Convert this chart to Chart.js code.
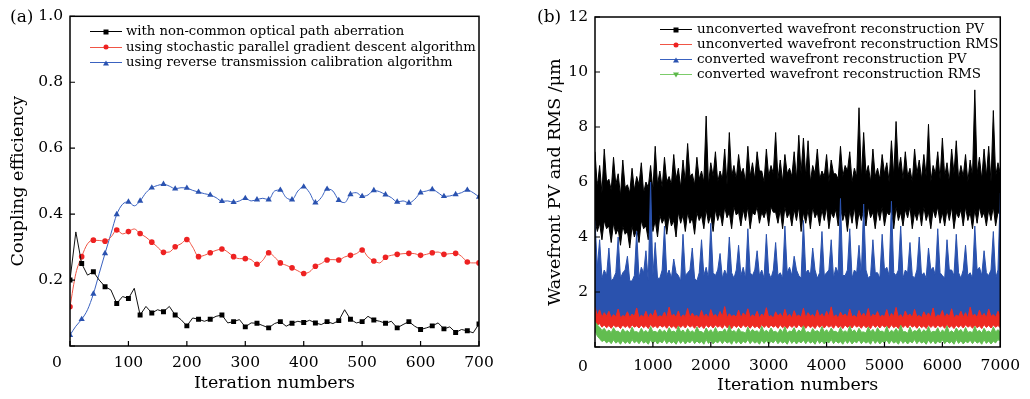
<!DOCTYPE html>
<html>
<head>
<meta charset="utf-8">
<script src="https://cdn.jsdelivr.net/npm/chart.js@4.4.1/dist/chart.umd.min.js"></script>
<style>
body { margin:0; background:#fff; }
#wrap { position:relative; width:1030px; height:399px; font-family:"DejaVu Serif", serif; color:#000; }
canvas { position:absolute; top:0; }
#cA { left:0; }
#cB { left:515px; }
.lbl { position:absolute; line-height:1; white-space:nowrap; }
.leg { position:absolute; white-space:nowrap; }
.leg div { position:relative; }
.sw { display:inline-block; position:relative; width:32px; height:0; border-top:1px solid; vertical-align:middle; margin-right:4px; }
.mk { position:absolute; left:50%; top:-0.5px; transform:translate(-50%,-50%); }
.sq { width:5px; height:5px; background:#000; }
.ci { width:5px; height:5px; border-radius:50%; background:#ee2222; }
.tu { width:0; height:0; border-left:3px solid transparent; border-right:3px solid transparent; border-bottom:5px solid #2a52b0; }
.td { width:0; height:0; border-left:3px solid transparent; border-right:3px solid transparent; border-top:5px solid #5cb84a; }
</style>
</head>
<body>
<div id="wrap">
  <canvas id="cA" width="515" height="399"></canvas>
  <canvas id="cB" width="515" height="399"></canvas>

  <div class="lbl" style="left:10px;top:8px;font-size:17px;">(a)</div>
  <div class="lbl" style="left:537px;top:8px;font-size:17px;">(b)</div>
  <div class="lbl" style="left:52px;top:355px;font-size:15.5px;">0</div>
  <div class="lbl" style="left:578px;top:359px;font-size:15.5px;">0</div>

  <div class="leg" style="left:90px;top:23px;font-size:13.2px;line-height:15.5px;">
    <div><span class="sw" style="border-color:#000"><i class="mk sq"></i></span>with non-common optical path aberration</div>
    <div><span class="sw" style="border-color:#f05545"><i class="mk ci"></i></span>using stochastic parallel gradient descent algorithm</div>
    <div><span class="sw" style="border-color:#3a62c0"><i class="mk tu"></i></span>using reverse transmission calibration algorithm</div>
  </div>
  <div class="leg" style="left:660px;top:21px;font-size:13.5px;line-height:15px;">
    <div><span class="sw" style="border-color:#000;margin-right:5px"><i class="mk sq"></i></span>unconverted wavefront reconstruction PV</div>
    <div><span class="sw" style="border-color:#f05545;margin-right:5px"><i class="mk ci"></i></span>unconverted wavefront reconstruction RMS</div>
    <div><span class="sw" style="border-color:#3a62c0;margin-right:5px"><i class="mk tu"></i></span>converted wavefront reconstruction PV</div>
    <div><span class="sw" style="border-color:#7ccc6a;margin-right:5px"><i class="mk td"></i></span>converted wavefront reconstruction RMS</div>
  </div>
</div>

<script>
const FONT = "DejaVu Serif";

// ---------------- panel (a): coupling efficiency, one value every 10 iterations
const stepA = 10;
const blackA = [0.2,0.346,0.25,0.215,0.225,0.2,0.18,0.17,0.129,0.15,
  0.144,0.175,0.094,0.12,0.1,0.11,0.104,0.12,0.094,0.08,
  0.061,0.085,0.081,0.075,0.081,0.09,0.094,0.07,0.074,0.08,
  0.058,0.07,0.069,0.062,0.055,0.068,0.074,0.06,0.069,0.075,
  0.071,0.078,0.07,0.065,0.074,0.068,0.077,0.11,0.081,0.07,
  0.074,0.09,0.079,0.075,0.069,0.075,0.055,0.065,0.074,0.06,
  0.05,0.055,0.061,0.07,0.052,0.058,0.041,0.05,0.046,0.04,0.067];
const redA = [0.119,0.22,0.271,0.31,0.321,0.32,0.318,0.33,0.352,0.34,
  0.347,0.355,0.341,0.33,0.315,0.3,0.284,0.285,0.301,0.31,
  0.323,0.3,0.271,0.275,0.283,0.29,0.294,0.285,0.271,0.265,
  0.265,0.262,0.248,0.26,0.283,0.27,0.252,0.245,0.237,0.228,
  0.22,0.225,0.242,0.25,0.261,0.262,0.261,0.27,0.275,0.28,
  0.291,0.27,0.258,0.252,0.269,0.275,0.278,0.28,0.281,0.28,
  0.275,0.278,0.283,0.285,0.278,0.28,0.281,0.272,0.255,0.252,0.252];
const blueA = [0.033,0.06,0.081,0.11,0.158,0.22,0.281,0.34,0.399,0.43,
  0.437,0.425,0.44,0.465,0.48,0.487,0.491,0.485,0.477,0.48,
  0.479,0.472,0.467,0.462,0.458,0.45,0.439,0.44,0.436,0.44,
  0.448,0.44,0.444,0.448,0.444,0.47,0.473,0.45,0.444,0.47,
  0.483,0.465,0.435,0.45,0.476,0.47,0.442,0.435,0.46,0.465,
  0.454,0.458,0.472,0.468,0.459,0.45,0.437,0.44,0.434,0.445,
  0.465,0.47,0.475,0.465,0.454,0.455,0.46,0.465,0.473,0.465,0.452];
const xTicksA = [0,100,200,300,400,500,600,700];
const yTicksA = [0,0.2,0.4,0.6,0.8,1.0];

// ---------------- panel (b): 7000 noisy iterations, kept as max / min per 40-iteration bin
const stepB = 40;
const blackHiB = [7.1,5.8,6.6,5.6,7.2,6.0,6.1,5.7,6.9,5.9,
  6.3,5.5,6.8,5.8,5.9,5.6,6.5,5.7,6.2,5.9,
  6.7,5.6,6.0,5.8,6.6,5.7,7.3,5.9,6.4,5.8,
  6.9,6.0,6.2,5.9,7.0,6.1,6.5,5.8,6.8,6.0,
  7.4,6.2,6.3,5.9,6.9,6.1,6.4,6.0,8.4,5.9,
  6.7,6.2,7.1,6.0,6.4,6.1,7.2,5.9,7.8,6.2,
  6.6,6.1,7.0,6.3,6.5,6.0,7.3,6.2,6.7,6.1,
  7.1,6.4,6.4,6.0,7.2,6.2,6.6,6.3,7.8,6.1,
  6.8,6.0,7.0,6.3,6.5,6.2,7.1,6.1,7.7,6.3,
  7.6,6.2,7.5,6.0,6.6,6.3,7.2,6.1,6.4,6.2,
  7.0,6.0,6.8,6.3,6.3,6.1,7.3,6.2,6.6,6.4,
  7.1,6.0,6.5,6.2,8.7,6.1,7.8,6.3,6.6,6.0,
  7.2,6.2,6.5,6.1,7.0,6.3,6.7,6.0,7.5,6.2,
  8.2,6.4,6.9,6.1,7.1,6.2,6.5,6.0,7.2,6.3,
  6.8,6.1,7.0,6.2,8.1,6.0,6.6,6.3,7.1,6.1,
  7.6,6.2,6.7,6.0,7.2,6.3,7.5,6.1,6.6,6.2,
  7.0,6.0,6.8,6.2,9.35,6.3,6.9,6.1,7.2,6.2,
  7.3,6.0,8.6,6.2,6.7,6.3];
const blackLoB = [4.6,4.2,4.5,3.9,4.6,4.3,4.4,3.8,4.5,4.1,4.3,3.7,4.4,4.1,4.2,3.6,4.4,4.0,4.3,3.8,
  4.6,4.3,4.4,3.9,4.7,4.2,4.6,4.0,4.8,4.5,4.7,4.1,4.8,4.4,4.6,4.0,4.9,4.5,4.8,4.2,
  4.9,4.5,4.7,4.1,4.9,4.6,4.8,4.3,5.0,4.5,4.8,4.2,5.0,4.6,4.9,4.4,5.1,4.7,4.9,4.3,
  5.1,4.8,4.9,4.4,5.0,4.6,5.1,4.3,4.9,4.8,5.1,4.5,4.9,4.7,5.0,4.4,5.1,4.9,4.9,4.5,
  5.0,4.3,5.1,4.7,4.9,4.4,5.0,4.6,5.1,4.2,4.9,4.5,5.0,4.3,5.1,4.7,4.9,4.4,5.0,4.6,
  5.1,4.3,4.9,4.7,5.0,4.4,5.1,4.6,4.9,4.2,5.0,4.5,5.1,4.3,4.9,4.6,5.0,4.4,5.1,4.7,
  4.9,4.3,5.0,4.6,5.1,4.4,4.9,4.8,5.0,4.3,5.1,4.6,4.9,4.4,5.0,4.7,5.1,4.3,4.9,4.6,
  5.0,4.4,5.1,4.6,4.9,4.3,5.0,4.7,5.1,4.5,4.9,4.4,5.0,4.6,5.1,4.3,4.9,4.7,5.0,4.4,
  5.1,4.6,4.9,4.3,5.0,4.5,5.1,4.7,4.9,4.4,5.0,4.6,5.1,4.4,4.9,4.8];
const blueHiB = [4.6,2.9,3.9,2.5,2.8,2.6,3.6,2.4,2.5,2.7,
  4.0,2.5,2.7,2.8,3.3,2.4,2.4,2.6,4.2,2.5,
  2.9,2.7,3.5,2.4,6.0,2.6,3.8,2.5,2.5,2.8,
  4.4,2.6,2.8,2.5,3.2,2.7,2.6,2.4,4.1,2.6,
  2.7,2.8,3.6,2.5,2.4,2.7,3.9,2.6,2.9,2.5,
  4.5,2.7,2.6,2.8,3.4,2.5,2.8,2.6,4.0,2.7,
  2.5,2.8,3.7,2.6,2.9,2.5,4.3,2.7,2.6,2.8,
  3.5,2.6,2.8,2.5,4.1,2.7,2.5,2.8,3.8,2.6,
  2.7,2.5,4.4,2.7,2.9,2.6,3.3,2.8,2.6,2.5,
  4.6,2.7,2.8,2.6,3.6,2.8,2.5,2.7,4.2,2.6,
  2.7,2.8,3.9,2.5,2.9,2.7,5.4,2.6,2.6,2.8,
  4.3,2.5,2.8,2.7,3.7,2.6,5.2,2.8,2.5,2.6,
  3.9,2.7,2.7,2.5,4.1,2.8,2.9,2.6,5.3,2.7,
  2.6,2.8,4.4,2.5,2.8,2.7,3.8,2.6,2.5,2.8,
  4.0,2.6,2.7,2.5,3.6,2.8,2.9,2.6,4.3,2.7,
  2.6,2.5,3.9,2.8,2.8,2.6,4.1,2.7,2.5,2.8,
  3.7,2.6,2.7,2.5,4.4,2.8,2.9,2.6,3.5,2.7,
  2.6,2.8,4.2,2.5,2.8,5.6];
const blueLoB = [1.2,0.9,1.0,0.85,1.1,0.9,0.95,0.8,1.05,0.9,
  1.0,0.85,1.1,0.9,0.95,0.8,1.05,0.88,1.0,0.82,
  1.08,0.9,0.96,0.8,1.04,0.86,1.0,0.83,1.1,0.9,
  0.95,0.8,1.05,0.88,1.0,0.82,1.08,0.9,0.96,0.8,
  1.04,0.86,1.0,0.83,1.1,0.9,0.95,0.8,1.05,0.88,
  1.0,0.82,1.08,0.9,0.96,0.8,1.04,0.86,1.0,0.83,
  1.1,0.9,0.95,0.8,1.05,0.88,1.0,0.82,1.08,0.9,
  0.96,0.8,1.04,0.86,1.0,0.83,1.1,0.9,0.95,0.8,
  1.05,0.88,1.0,0.82,1.08,0.9,0.96,0.8,1.04,0.86,
  1.0,0.83,1.1,0.9,0.95,0.8,1.05,0.88,1.0,0.82,
  1.08,0.9,0.96,0.8,1.04,0.86,1.0,0.83,1.1,0.9,
  0.95,0.8,1.05,0.88,1.0,0.82,1.08,0.9,0.96,0.8,
  1.04,0.86,1.0,0.83,1.1,0.9,0.95,0.8,1.05,0.88,
  1.0,0.82,1.08,0.9,0.96,0.8,1.04,0.86,1.0,0.83,
  1.1,0.9,0.95,0.8,1.05,0.88,1.0,0.82,1.08,0.9,
  0.96,0.8,1.04,0.86,1.0,0.83,1.1,0.9,0.95,0.8,
  1.05,0.88,1.0,0.82,1.08,0.9,0.96,0.8,1.04,0.86,
  1.0,0.83,1.1,0.9,0.95,1.0];
const redHiB = [1.45,1.15,1.35,1.08,1.25,1.12,1.3,1.06,1.18,1.1,
  1.38,1.05,1.15,1.1,1.28,1.07,1.2,1.12,1.42,1.06,
  1.16,1.09,1.3,1.05,1.22,1.11,1.35,1.07,1.14,1.1,
  1.27,1.06,1.45,1.12,1.19,1.08,1.31,1.05,1.17,1.1,
  1.4,1.07,1.23,1.11,1.15,1.06,1.33,1.09,1.2,1.05,
  1.36,1.12,1.18,1.07,1.29,1.1,1.47,1.06,1.21,1.11,
  1.16,1.08,1.34,1.05,1.24,1.12,1.39,1.07,1.17,1.1,
  1.3,1.06,1.2,1.11,1.43,1.08,1.15,1.05,1.28,1.12,
  1.22,1.07,1.37,1.1,1.19,1.06,1.32,1.11,1.16,1.08,
  1.41,1.05,1.25,1.12,1.18,1.07,1.35,1.1,1.21,1.06,
  1.3,1.11,1.46,1.08,1.17,1.05,1.27,1.12,1.2,1.07,
  1.38,1.1,1.15,1.06,1.33,1.11,1.23,1.08,1.4,1.05,
  1.19,1.12,1.29,1.07,1.16,1.1,1.36,1.06,1.22,1.11,
  1.44,1.08,1.18,1.05,1.31,1.12,1.2,1.07,1.37,1.1,
  1.15,1.06,1.28,1.11,1.24,1.08,1.42,1.05,1.17,1.12,
  1.33,1.07,1.21,1.1,1.39,1.06,1.16,1.11,1.3,1.08,
  1.25,1.05,1.45,1.12,1.19,1.07,1.34,1.1,1.22,1.06,
  1.38,1.11,1.18,1.08,1.3,1.1];
const redLoB = [0.95,0.8,0.85,0.72,0.8,0.7,0.78,0.68,0.8,0.72,
  0.77,0.67,0.8,0.71,0.78,0.68,0.81,0.72,0.77,0.69,
  0.8,0.7,0.78,0.67,0.82,0.71,0.77,0.69,0.8,0.72,
  0.78,0.68,0.81,0.7,0.77,0.67,0.8,0.71,0.79,0.69,
  0.82,0.72,0.78,0.68,0.8,0.7,0.77,0.67,0.81,0.71,
  0.79,0.69,0.8,0.72,0.78,0.68,0.82,0.7,0.77,0.67,
  0.8,0.71,0.79,0.69,0.81,0.72,0.78,0.68,0.8,0.7,
  0.77,0.67,0.82,0.71,0.79,0.69,0.8,0.72,0.78,0.68,
  0.81,0.7,0.77,0.67,0.8,0.71,0.79,0.69,0.82,0.72,
  0.78,0.68,0.8,0.7,0.77,0.67,0.81,0.71,0.79,0.69,
  0.8,0.72,0.78,0.68,0.82,0.7,0.77,0.67,0.8,0.71,
  0.79,0.69,0.81,0.72,0.78,0.68,0.8,0.7,0.77,0.67,
  0.82,0.71,0.79,0.69,0.8,0.72,0.78,0.68,0.81,0.7,
  0.77,0.67,0.8,0.71,0.79,0.69,0.82,0.72,0.78,0.68,
  0.8,0.7,0.77,0.67,0.81,0.71,0.79,0.69,0.8,0.72,
  0.78,0.68,0.82,0.7,0.77,0.67,0.8,0.71,0.79,0.69,
  0.81,0.72,0.78,0.68,0.8,0.7,0.77,0.67,0.82,0.71,
  0.79,0.69,0.8,0.72,0.78,0.7];
const greenHiB = [0.92,0.8,0.72,0.6,0.68,0.55,0.62,0.52,0.7,0.56,
  0.58,0.5,0.66,0.54,0.6,0.51,0.72,0.55,0.56,0.5,
  0.68,0.53,0.6,0.5,0.74,0.55,0.57,0.52,0.65,0.54,
  0.61,0.5,0.7,0.55,0.58,0.52,0.76,0.54,0.62,0.5,
  0.67,0.53,0.59,0.51,0.73,0.56,0.56,0.5,0.69,0.54,
  0.63,0.5,0.71,0.53,0.57,0.55,0.66,0.51,0.78,0.54,
  0.6,0.52,0.68,0.55,0.55,0.5,0.72,0.53,0.64,0.56,
  0.59,0.51,0.75,0.54,0.61,0.52,0.69,0.55,0.57,0.5,
  0.66,0.53,0.73,0.51,0.58,0.56,0.7,0.5,0.62,0.54,
  0.77,0.52,0.56,0.5,0.67,0.55,0.6,0.52,0.74,0.54,
  0.63,0.51,0.69,0.56,0.57,0.5,0.71,0.53,0.59,0.52,
  0.76,0.55,0.62,0.5,0.68,0.54,0.55,0.51,0.73,0.55,
  0.64,0.5,0.7,0.56,0.58,0.52,0.75,0.51,0.61,0.54,
  0.67,0.52,0.79,0.55,0.56,0.5,0.72,0.53,0.6,0.56,
  0.68,0.51,0.63,0.54,0.74,0.52,0.57,0.55,0.7,0.5,
  0.62,0.54,0.77,0.52,0.59,0.51,0.69,0.56,0.64,0.5,
  0.71,0.53,0.56,0.52,0.75,0.55,0.61,0.51,0.68,0.54,
  0.58,0.52,0.73,0.55,0.63,0.55];
const greenLoB = [0.6,0.4,0.3,0.2,0.25,0.15,0.22,0.12,0.26,0.14,
  0.21,0.1,0.24,0.13,0.2,0.11,0.27,0.15,0.22,0.12,
  0.25,0.14,0.2,0.1,0.26,0.13,0.23,0.11,0.21,0.15,
  0.27,0.12,0.22,0.14,0.2,0.1,0.25,0.13,0.24,0.11,
  0.21,0.15,0.26,0.12,0.22,0.14,0.2,0.1,0.27,0.13,
  0.23,0.11,0.21,0.15,0.25,0.12,0.24,0.14,0.2,0.1,
  0.26,0.13,0.22,0.11,0.21,0.15,0.27,0.12,0.23,0.14,
  0.2,0.1,0.25,0.13,0.24,0.11,0.21,0.15,0.26,0.12,
  0.22,0.14,0.2,0.1,0.27,0.13,0.23,0.11,0.21,0.15,
  0.25,0.12,0.24,0.14,0.2,0.1,0.26,0.13,0.22,0.11,
  0.21,0.15,0.27,0.12,0.23,0.14,0.2,0.1,0.25,0.13,
  0.24,0.11,0.21,0.15,0.26,0.12,0.22,0.14,0.2,0.1,
  0.27,0.13,0.23,0.11,0.21,0.15,0.25,0.12,0.24,0.14,
  0.2,0.1,0.26,0.13,0.22,0.11,0.21,0.15,0.27,0.12,
  0.23,0.14,0.2,0.1,0.25,0.13,0.24,0.11,0.21,0.15,
  0.26,0.12,0.22,0.14,0.2,0.1,0.27,0.13,0.23,0.11,
  0.21,0.15,0.25,0.12,0.24,0.14,0.2,0.1,0.26,0.13,
  0.22,0.11,0.21,0.15,0.27,0.2];
const xTicksB = [0,1000,2000,3000,4000,5000,6000,7000];
const yTicksB = [0,2,4,6,8,10,12];

// turn a value array into {x,y} points for a linear x axis
function toPoints(vals, step) {
  return vals.map((v, i) => ({ x: i * step, y: v }));
}

// frame box + inward tick marks (origin style)
const framePlugin = {
  id: 'frame',
  afterDraw(chart) {
    const { ctx, chartArea: a, scales } = chart;
    ctx.save();
    ctx.strokeStyle = '#000';
    ctx.lineWidth = 1.5;
    ctx.strokeRect(a.left, a.top, a.right - a.left, a.bottom - a.top);
    ctx.lineWidth = 1.2;
    ctx.beginPath();
    scales.x.ticks.forEach(t => {
      const px = scales.x.getPixelForValue(t.value);
      ctx.moveTo(px, a.bottom); ctx.lineTo(px, a.bottom - 5);
    });
    scales.y.ticks.forEach(t => {
      const py = scales.y.getPixelForValue(t.value);
      ctx.moveTo(a.left, py); ctx.lineTo(a.left + 5, py);
    });
    ctx.stroke();
    ctx.restore();
  }
};

function axis(min, max, ticks, title, fmt, fit, tickPad, titlePad) {
  return {
    type: 'linear', min: min, max: max,
    grid: { display: false, drawTicks: false }, border: { display: false },
    afterBuildTicks: s => { s.ticks = ticks.map(v => ({ value: v })); },
    ticks: { padding: tickPad, color: '#000', font: { family: FONT, size: 15.5 },
             callback: v => (Math.abs(v) < 1e-9 ? '' : fmt(v)) },
    title: { display: true, text: title, color: '#000', font: { family: FONT, size: 17.5 }, padding: titlePad },
    afterFit: fit
  };
}

function PlotPanel(canvasID, datasets, padding, xAxis, yAxis) {
  return new Chart(document.getElementById(canvasID), {
    type: 'line',
    data: { datasets: datasets },
    options: {
      responsive: false, animation: false,
      layout: { padding: padding },
      plugins: { legend: { display: false }, tooltip: { enabled: false } },
      scales: { x: xAxis, y: yAxis }
    },
    plugins: [framePlugin]
  });
}

// panel (a)
const markEvery = (n, r) => ctx => (ctx.dataIndex % n === 0 ? r : 0);
PlotPanel('cA', [
  { data: toPoints(blackA, stepA), borderColor: '#111', borderWidth: 1, tension: 0,
    pointStyle: 'rect', pointRadius: markEvery(2, 3.5), pointBackgroundColor: '#000', pointBorderWidth: 0 },
  { data: toPoints(redA, stepA), borderColor: '#f05545', borderWidth: 1, cubicInterpolationMode: 'monotone',
    pointStyle: 'circle', pointRadius: markEvery(2, 2.8), pointBackgroundColor: '#ee2222', pointBorderWidth: 0 },
  { data: toPoints(blueA, stepA), borderColor: '#3a62c0', borderWidth: 1, cubicInterpolationMode: 'monotone',
    pointStyle: 'triangle', pointRadius: markEvery(2, 3.6), pointBackgroundColor: '#2a52b0', pointBorderWidth: 0 }
], { left: 0, top: 16, right: 36, bottom: 0 },
  axis(0, 700, xTicksA, 'Iteration numbers', v => String(v), s => { s.height = 53; }, 7.5, { top: 0, bottom: 5 }),
  axis(0, 1, yTicksA, 'Coupling efficiency', v => v.toFixed(1), s => { s.width = 70; }, 7, { top: 7.5, bottom: 0 }));

// panel (b): each noisy trace is a filled band between its bin max and bin min
function band(hi, lo, color, order) {
  return [
    { data: toPoints(hi, stepB), borderColor: color, backgroundColor: color, borderWidth: 1,
      fill: '+1', pointRadius: 0, order: order },
    { data: toPoints(lo, stepB), borderColor: color, borderWidth: 1, fill: false, pointRadius: 0, order: order }
  ];
}
PlotPanel('cB', [
  ...band(blackHiB, blackLoB, '#000000', 3),
  ...band(redHiB, redLoB, '#ee2a22', 1),
  ...band(blueHiB, blueLoB, '#2a52ae', 2),
  ...band(greenHiB, greenLoB, '#62bd50', 0)
], { left: 0, top: 17, right: 25, bottom: 0 },
  axis(0, 7000, xTicksB, 'Iteration numbers', v => String(v), s => { s.height = 52; }, 10, { top: 0, bottom: 3 }),
  axis(0, 12, yTicksB, 'Wavefront PV and RMS /\u03bcm', v => String(v), s => { s.width = 80; }, 7, { top: 29.5, bottom: 0 }));
</script>
</body>
</html>
